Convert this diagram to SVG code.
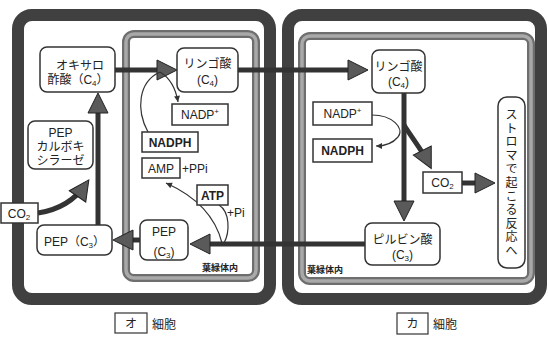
<svg xmlns="http://www.w3.org/2000/svg" width="549" height="337" viewBox="0 0 549 337">
<style>
text{font-family:"Liberation Sans","Noto Sans CJK JP",sans-serif;fill:#222;font-size:12px}
.c{text-anchor:middle}
.b{font-weight:bold}
.lab{font-size:9px;font-weight:bold}
.box{fill:#fff;stroke:#333;stroke-width:1.5}
.cell{fill:#fff;stroke:#404040;stroke-width:12}
.cp1{fill:none;stroke:#6e6e6e;stroke-width:8}
.cp2{fill:none;stroke:#a9a9a9;stroke-width:3.5}
.thick{fill:none;stroke:#333;stroke-width:5}
.thin{fill:none;stroke:#333;stroke-width:1.2}
</style>
<defs>
<marker id="big" markerUnits="userSpaceOnUse" markerWidth="22" markerHeight="22" refX="15" refY="10" orient="auto" overflow="visible">
<path d="M0,0 L20,10 L0,20 Z" fill="#5a5a5a" stroke="#222" stroke-width="1"/>
</marker>
<marker id="sm" markerUnits="userSpaceOnUse" markerWidth="8" markerHeight="8" refX="6" refY="3" orient="auto" overflow="visible">
<path d="M0,0 L6,3 L0,6 Z" fill="#333"/>
</marker>
</defs>
<rect width="549" height="337" fill="#fff"/>
<g id="cells">
<rect class="cell" x="18" y="15" width="252" height="284" rx="14"/>
<rect class="cell" x="288" y="15" width="253" height="284" rx="14"/>
<rect class="cp1" x="126" y="34" width="130" height="244" rx="8"/>
<rect class="cp2" x="126" y="34" width="130" height="244" rx="8"/>
<rect class="cp1" x="302" y="36" width="229" height="245" rx="8"/>
<rect class="cp2" x="302" y="36" width="229" height="245" rx="8"/>
<text class="lab" x="202" y="271">葉緑体内</text>
<text class="lab" x="307" y="273">葉緑体内</text>
</g>
<g id="connectors">
<path class="thick" d="M115,70 H172" marker-end="url(#big)"/>
<path class="thick" d="M238,70 H363" marker-end="url(#big)"/>
<path class="thick" d="M404,93 V216" marker-end="url(#big)"/>
<path class="thick" d="M404,125 C412,138 422,150 429,164" marker-end="url(#big)"/>
<path class="thick" d="M365,244 H195" marker-end="url(#big)"/>
<path class="thick" d="M140,240 H118" marker-end="url(#big)"/>
<path class="thick" d="M98,225 V98" marker-end="url(#big)"/>
<path class="thick" d="M38,213 C58,210 75,200 86,184" marker-end="url(#big)"/>
<path class="thick" d="M462,183 H490" marker-end="url(#big)"/>
<path class="thin" d="M148,132 C136,110 138,82 160,72"/>
<path class="thin" d="M160,72 C170,78 176,90 178,102" marker-end="url(#sm)"/>
<path class="thin" d="M222,243 C215,215 195,196 166,183" marker-end="url(#sm)"/>
<path class="thin" d="M219,205 C230,212 230,232 224,243"/>
<path class="thin" d="M372,115 C392,115 405,128 398,137 C393,143 386,146 376,146" marker-end="url(#sm)"/>
</g>
<g id="oxalo">
<rect class="box" x="40" y="47" width="75" height="45" rx="7"/>
<text x="80" y="70" class="c" font-size="12.5">オキサロ</text>
<text x="78" y="84" class="c" font-size="12.5">酢酸（C<tspan font-size="8" dy="2">4</tspan><tspan dy="-2">）</tspan></text>
</g>
<g id="malateL">
<rect class="box" x="177" y="48" width="61" height="44" rx="7"/>
<text x="207.5" y="68" class="c">リンゴ酸</text>
<text x="207.5" y="84" class="c">(C<tspan font-size="8" dy="2">4</tspan><tspan dy="-2">)</tspan></text>
</g>
<g id="nadpL">
<rect class="box" x="172" y="104" width="56" height="21"/>
<text x="200" y="119" class="c">NADP<tspan font-size="8" dy="-5">+</tspan></text>
</g>
<g id="nadphL">
<rect class="box" x="142" y="132" width="56" height="20"/>
<text x="170" y="147" class="c b">NADPH</text>
</g>
<g id="amp">
<rect class="box" x="142" y="158" width="38" height="20"/>
<text x="161" y="173" class="c">AMP</text>
<text x="182" y="173">+PPi</text>
</g>
<g id="atp">
<rect class="box" x="197" y="185" width="31" height="20"/>
<text x="212.5" y="200" class="c b">ATP</text>
<text x="227" y="217">+Pi</text>
</g>
<g id="pepC">
<rect class="box" x="140" y="220" width="48" height="40" rx="7"/>
<text x="164" y="236" class="c">PEP</text>
<text x="164" y="256" class="c">(C<tspan font-size="8" dy="2">3</tspan><tspan dy="-2">)</tspan></text>
</g>
<g id="pepL">
<rect class="box" x="37" y="225" width="75" height="30" rx="7"/>
<text x="74.5" y="246" class="c">PEP（C<tspan font-size="8" dy="2">3</tspan><tspan dy="-2">）</tspan></text>
</g>
<g id="co2L">
<rect class="box" x="1" y="203" width="37" height="20"/>
<text x="19" y="218" class="c">CO<tspan font-size="8" dy="2">2</tspan></text>
</g>
<g id="pepcase">
<rect class="box" x="28" y="121" width="65" height="48" rx="7"/>
<text x="60.5" y="137" class="c">PEP</text>
<text x="60.5" y="151" class="c">カルボキ</text>
<text x="60.5" y="165" class="c">シラーゼ</text>
</g>
<g id="malateR">
<rect class="box" x="372" y="50" width="53" height="43" rx="7"/>
<text x="398.5" y="71" class="c">リンゴ酸</text>
<text x="398.5" y="86" class="c">(C<tspan font-size="8" dy="2">4</tspan><tspan dy="-2">)</tspan></text>
</g>
<g id="nadpR">
<rect class="box" x="313" y="102" width="59" height="23"/>
<text x="342.5" y="118" class="c">NADP<tspan font-size="8" dy="-5">+</tspan></text>
</g>
<g id="nadphR">
<rect class="box" x="313" y="139" width="59" height="23"/>
<text x="342.5" y="155" class="c b">NADPH</text>
</g>
<g id="co2R">
<rect class="box" x="423" y="172" width="39" height="21"/>
<text x="442.5" y="187" class="c">CO<tspan font-size="8" dy="2">2</tspan></text>
</g>
<g id="stroma">
<rect class="box" x="498" y="97" width="27" height="171" rx="9"/>
<text class="c"><tspan x="511.5" y="119">ス</tspan><tspan x="511.5" y="132.6">ト</tspan><tspan x="511.5" y="146.2">ロ</tspan><tspan x="511.5" y="159.8">マ</tspan><tspan x="511.5" y="173.4">で</tspan><tspan x="511.5" y="187">起</tspan><tspan x="511.5" y="200.6">こ</tspan><tspan x="511.5" y="214.2">る</tspan><tspan x="511.5" y="227.8">反</tspan><tspan x="511.5" y="241.4">応</tspan><tspan x="511.5" y="255">へ</tspan></text>
</g>
<g id="pyruvate">
<rect class="box" x="365" y="223" width="75" height="42" rx="7"/>
<text x="402.5" y="244" class="c" font-size="13">ピルビン酸</text>
<text x="402.5" y="259" class="c">(C<tspan font-size="8" dy="2">3</tspan><tspan dy="-2">)</tspan></text>
</g>
<g id="labelO">
<rect x="115" y="313" width="32" height="20" fill="#fff" stroke="#333" stroke-width="1.2"/>
<text x="131" y="328" class="c">オ</text>
<text x="152" y="329" font-size="11">細胞</text>
</g>
<g id="labelKa">
<rect x="397" y="313" width="31" height="21" fill="#fff" stroke="#333" stroke-width="1.2"/>
<text x="412.5" y="328" class="c">カ</text>
<text x="433" y="329" font-size="11">細胞</text>
</g>
</svg>
